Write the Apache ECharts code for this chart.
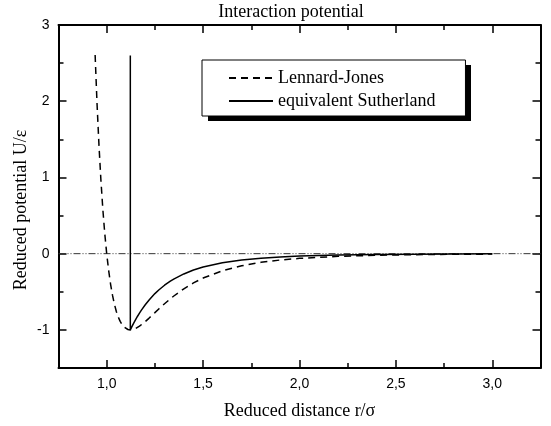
<!DOCTYPE html>
<html><head><meta charset="utf-8">
<script src="https://cdn.jsdelivr.net/npm/echarts@6/dist/echarts.min.js"></script>
<style>html,body{margin:0;padding:0;background:#fff}#c{width:551px;height:426px}</style>
</head><body><div id="c"></div>
<script>
// Lennard-Jones (dashed)
const ljR = [0.94,0.95,0.96,0.97,0.98,0.99,1.00,1.01,1.02,1.03,1.04,1.05,1.06,1.07,1.08,1.09,1.10,1.11,1.1225,1.15,1.16,1.17,1.18,1.2,1.22,1.25,1.27,1.3,1.33,1.35,1.4,1.45,1.5,1.6,1.7,1.8,1.9,2.0,2.2,2.4,2.6,2.8,3.0];
const ljU = [2.607,1.961,1.418,0.963,0.582,0.264,0,-0.218,-0.398,-0.544,-0.663,-0.758,-0.832,-0.889,-0.932,-0.963,-0.983,-0.995,-1.0,-0.982,-0.968,-0.951,-0.933,-0.891,-0.845,-0.774,-0.726,-0.657,-0.592,-0.552,-0.461,-0.384,-0.320,-0.224,-0.159,-0.114,-0.0832,-0.0615,-0.0350,-0.0208,-0.0129,-0.0083,-0.0055];
// equivalent Sutherland (solid)
const suR = [1.1225,1.1225,1.13,1.14,1.15,1.16,1.17,1.18,1.2,1.22,1.25,1.27,1.3,1.33,1.35,1.4,1.45,1.5,1.6,1.7,1.8,1.9,2.0,2.2,2.4,2.6,2.8,3.0];
const suU = [2.6,-1.0,-0.961,-0.911,-0.865,-0.821,-0.780,-0.741,-0.670,-0.607,-0.524,-0.477,-0.414,-0.361,-0.330,-0.266,-0.215,-0.176,-0.119,-0.0829,-0.0588,-0.0425,-0.0313,-0.0176,-0.0105,-0.0065,-0.0042,-0.0027];
const zeroR = [0.75,3.25];
const zeroU = [0,0];
const xMajor = [1.0,1.5,2.0,2.5,3.0];
const xMinor = [1.25,1.75,2.25,2.75];
const yMajor = [-1,0,1,2,3];
const yMinor = [-0.5,0.5,1.5,2.5];
const seriesNames = ['Lennard-Jones','equivalent Sutherland'];

const zip = (a,b)=>a.map((v,i)=>[v,b[i]]);
const serif = 'Liberation Serif';
const sans = 'Liberation Sans';
function xAx(pos, vals, len, labels, line){
  return {type:'value',min:0.75,max:3.25,position:pos,
    axisLine:{show:line,onZero:false,lineStyle:{color:'#000',width:2}},
    axisTick:{show:true,inside:true,length:len,customValues:vals,lineStyle:{color:'#000',width:1.5}},
    axisLabel:{show:labels,customValues:vals,margin:9,color:'#000',fontFamily:sans,fontSize:14,
      formatter:v=>v.toFixed(1).replace('.',',')},
    splitLine:{show:false}};
}
function yAx(pos, vals, len, labels, line){
  return {type:'value',min:-1.5,max:3,position:pos,
    axisLine:{show:line,onZero:false,lineStyle:{color:'#000',width:2}},
    axisTick:{show:true,inside:true,length:len,customValues:vals,lineStyle:{color:'#000',width:1.5}},
    axisLabel:{show:labels,customValues:vals,margin:9,color:'#000',fontFamily:sans,fontSize:14,
      formatter:v=>String(v)},
    splitLine:{show:false}};
}
const xs = [xAx('bottom',xMajor,8,true,true), xAx('bottom',xMinor,5,false,false), xAx('top',xMajor,8,false,true), xAx('top',xMinor,5,false,false)];
xs[0].name='Reduced distance r/σ'; xs[0].nameLocation='middle'; xs[0].nameGap=34;
xs[0].nameTextStyle={fontFamily:serif,fontSize:18,color:'#000'};
const ys = [yAx('left',yMajor,8,true,true), yAx('left',yMinor,5,false,false), yAx('right',yMajor,8,false,true), yAx('right',yMinor,5,false,false)];

const chart = echarts.init(document.getElementById('c'),null,{renderer:'canvas'});
chart.setOption({
  animation:false,
  backgroundColor:'#fff',
  color:['#000','#000','#000'],
  title:{text:'Interaction potential',left:291,top:3,padding:0,textAlign:'center',
    textStyle:{fontFamily:serif,fontSize:18,fontWeight:'normal',color:'#000'}},
  graphic:[
    {type:'text',x:21,y:210,rotation:Math.PI/2,
      style:{text:'Reduced potential U/ε',font:'18px "Liberation Serif"',fill:'#000',align:'center',verticalAlign:'middle'}},
    {type:'rect',z:3,silent:true,shape:{x:208,y:65,width:263,height:56},style:{fill:'#000'}}
  ],
  grid:{left:58.5,top:25,right:10.5,bottom:58,containLabel:false,outerBoundsMode:'none'},
  xAxis:xs, yAxis:ys,
  legend:{data:seriesNames,orient:'vertical',left:202,top:60,z:5,
    padding:[9,30,6,26],itemGap:5,itemWidth:44,itemHeight:18,
    backgroundColor:'#fff',borderColor:'#000',borderWidth:1,
    itemStyle:{opacity:0},
    textStyle:{fontFamily:serif,fontSize:18,color:'#000'}},
  series:[
    {name:'zero',type:'line',data:zip(zeroR,zeroU),symbol:'none',silent:true,z:1,
      lineStyle:{color:'#333',width:1,type:[7,2,1,2,1,2]}},
    {name:seriesNames[0],type:'line',data:zip(ljR,ljU),symbol:'none',z:3,
      lineStyle:{color:'#000',width:1.5,type:[7,5]}},
    {name:seriesNames[1],type:'line',data:zip(suR,suU),symbol:'none',z:3,
      lineStyle:{color:'#000',width:1.5,type:'solid'}}
  ]
});
</script></body></html>
